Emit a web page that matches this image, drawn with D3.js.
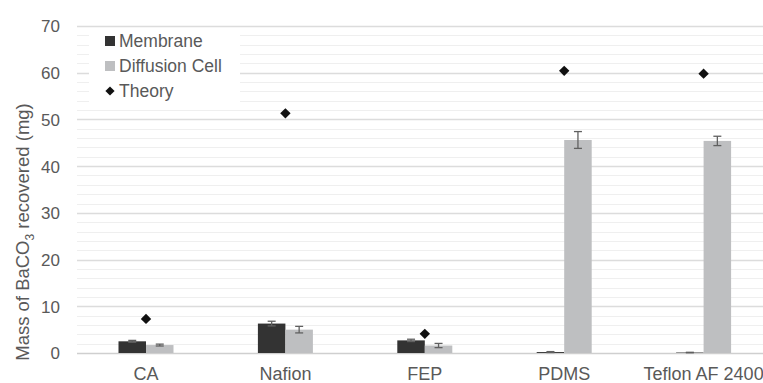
<!DOCTYPE html>
<html><head><meta charset="utf-8">
<script src="https://cdn.jsdelivr.net/npm/d3@7"></script>
<style>
html,body{margin:0;padding:0;background:#fff;}
svg{display:block;font-family:"Liberation Sans",Arial,sans-serif;}
</style></head>
<body><svg id="c" width="763" height="383"></svg>
<script>
const categories = ["CA","Nafion","FEP","PDMS","Teflon AF 2400"];
const membrane = [2.5, 6.3, 2.7, 0.2, 0.1];
const membraneErr = [0.2, 0.5, 0.25, 0.1, 0.05];
const diffusion = [1.7, 5.0, 1.6, 45.6, 45.4];
const diffusionErr = [0.2, 0.7, 0.45, 1.8, 1.0];
const theory = [7.3, 51.3, 4.1, 60.4, 59.8];
const yTicks = [0,10,20,30,40,50,60,70];
const minorTicks = d3.range(0, 71, 2);
const seriesNames = ["Membrane","Diffusion Cell","Theory"];
const colors = {membrane:"#333333", diffusion:"#bebfc1", theory:"#111111"};

const svg = d3.select("#c");
const x = d3.scaleBand().domain(categories).range([76.3, 773.3]).padding(0);
const y = d3.scaleLinear().domain([0,70]).range([353, 26]);
const bw = 27.5;
const cx = c => x(c) + x.bandwidth()/2;

// minor gridlines
svg.append("g").selectAll("line").data(minorTicks.filter(v => v % 10 !== 0)).join("line")
  .attr("x1", 77).attr("x2", 763).attr("y1", d => Math.round(y(d))+0.5).attr("y2", d => Math.round(y(d))+0.5)
  .attr("stroke", "#efefef").attr("stroke-width", 1);
// major gridlines
svg.append("g").selectAll("line").data(yTicks).join("line")
  .attr("x1", 77).attr("x2", 763).attr("y1", d => Math.round(y(d))+0.5).attr("y2", d => Math.round(y(d))+0.5)
  .attr("stroke", d => d === 0 ? "#cfcfcf" : "#dcdcdc").attr("stroke-width", 1.5);

// y axis labels
const yAxis = d3.axisLeft(y).tickValues(yTicks).tickSize(0).tickPadding(0);
const gy = svg.append("g").attr("transform", "translate(60,0)").call(yAxis);
gy.select(".domain").remove();
gy.selectAll("text").attr("font-size", 17).attr("fill", "#595959").attr("font-family", "Liberation Sans, Arial, sans-serif").attr("dy","0.35em");

// x axis labels
const xAxis = d3.axisBottom(x).tickSize(0).tickPadding(0);
const gx = svg.append("g").attr("transform", "translate(0,354)").call(xAxis);
gx.select(".domain").remove();
gx.selectAll("text").attr("font-size", 18).attr("fill", "#595959").attr("font-family", "Liberation Sans, Arial, sans-serif").attr("dy", null).attr("y", 26);

// bars
const gb = svg.append("g");
gb.selectAll("rect.m").data(categories).join("rect").attr("class","m")
  .attr("x", c => cx(c) - bw).attr("width", bw)
  .attr("y", (c,i) => y(membrane[i])).attr("height", (c,i) => y(0) - y(membrane[i]))
  .attr("fill", colors.membrane);
gb.selectAll("rect.d").data(categories).join("rect").attr("class","d")
  .attr("x", c => cx(c)).attr("width", bw)
  .attr("y", (c,i) => y(diffusion[i])).attr("height", (c,i) => y(0) - y(diffusion[i]))
  .attr("fill", colors.diffusion);

// error bars
function errBars(vals, errs, off) {
  const g = svg.append("g").attr("stroke", "#606060").attr("stroke-width", 1.3);
  categories.forEach((c,i) => {
    const xc = cx(c) + off;
    const y1 = y(vals[i] + errs[i]), y2 = y(Math.max(0, vals[i] - errs[i]));
    g.append("line").attr("x1", xc).attr("x2", xc).attr("y1", y1).attr("y2", y2);
    g.append("line").attr("x1", xc-4).attr("x2", xc+4).attr("y1", y1).attr("y2", y1);
    g.append("line").attr("x1", xc-4).attr("x2", xc+4).attr("y1", y2).attr("y2", y2);
  });
}
errBars(membrane, membraneErr, -bw/2);
errBars(diffusion, diffusionErr, bw/2);

// theory diamonds
const diamond = r => `M0,${-r}L${r},0L0,${r}L${-r},0Z`;
svg.append("g").selectAll("path").data(categories).join("path")
  .attr("d", diamond(5.2))
  .attr("transform", (c,i) => `translate(${cx(c)},${y(theory[i])})`)
  .attr("fill", colors.theory);

// y title
const t = svg.append("text").attr("transform", "translate(29,232) rotate(-90)")
  .attr("text-anchor", "middle").attr("font-size", 18.5).attr("fill", "#595959");
t.append("tspan").text("Mass of BaCO");
t.append("tspan").text("3").attr("font-size", 12).attr("dy", 5);
t.append("tspan").text(" recovered (mg)").attr("dy", -5);

// legend
const lg = svg.append("g");
lg.append("rect").attr("x", 89).attr("y", 28).attr("width", 151).attr("height", 77).attr("fill", "#fff");
const ly = [41, 66, 91];
lg.append("rect").attr("x", 105).attr("y", ly[0]-5).attr("width", 10).attr("height", 10).attr("fill", colors.membrane);
lg.append("rect").attr("x", 105).attr("y", ly[1]-5).attr("width", 10).attr("height", 10).attr("fill", colors.diffusion);
lg.append("path").attr("d", diamond(4.6)).attr("transform", `translate(110,${ly[2]})`).attr("fill", colors.theory);
lg.selectAll("text").data(seriesNames).join("text")
  .attr("x", 119).attr("y", (d,i) => ly[i]).attr("dy", "0.35em")
  .attr("font-size", 17.5).attr("fill", "#595959").text(d => d);
</script></body></html>
